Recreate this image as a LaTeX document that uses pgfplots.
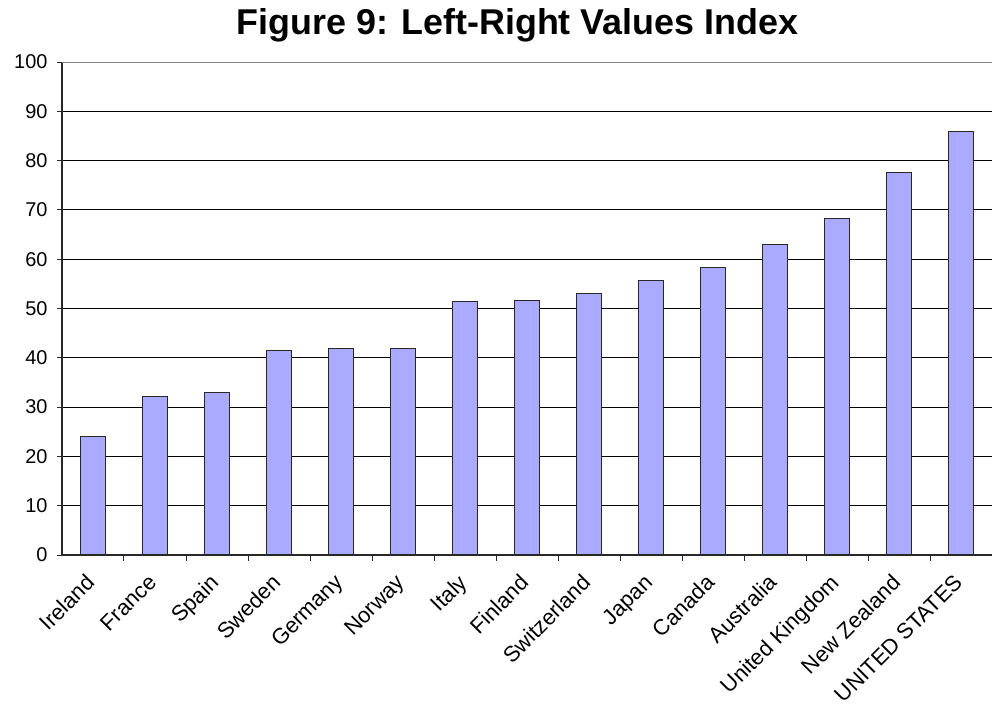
\documentclass[border=0pt]{standalone}
\usepackage{fontspec}
\setmainfont{Liberation Sans}
\usepackage{pgfplots}
\pgfplotsset{compat=1.18}
\definecolor{barblue}{RGB}{170,170,255}
\definecolor{edge}{RGB}{40,40,40}

\begin{document}
\begin{tikzpicture}
\begin{axis}[
  scale only axis,
  width=930bp, height=493bp,
  xmin=-0.5, xmax=14.5,
  ymin=0, ymax=100,
  ytick={0,10,...,100},
  ymajorgrids,
  grid style={black, line width=1bp},
  axis x line*=bottom, axis y line*=left,
  axis line style={edge, line width=1.3bp, -},
  xtick={0,...,14},
  xticklabels={Ireland,France,Spain,Sweden,Germany,Norway,Italy,Finland,Switzerland,Japan,Canada,Australia,United Kingdom,New Zealand,UNITED STATES},
  x tick label style={xshift=-8bp, yshift=-10bp, rotate=45, anchor=north east, inner sep=2bp, font=\fontsize{22}{24}\selectfont},
  y tick label style={font=\fontsize{20}{24}\selectfont, xshift=-6bp},
  minor x tick num=1,
  tick align=outside,
  major tick length=5bp,
  minor tick length=6bp,
  x tick style={edge, line width=1bp},
  major x tick style={draw=none},
  y tick style={edge, line width=1bp},
  /pgf/number format/assume math mode=true,
  title={Figure 9: Left-Right Values Index},
  title style={font=\bfseries\fontsize{36}{40}\selectfont, at={(0.5,1)}, anchor=base, yshift=22bp, xshift=-9.5bp},
]
\addplot[ybar, bar width=25bp, fill=barblue, draw=edge, line width=1.1bp] coordinates {
  (0,24.0) (1,32.1) (2,33.0) (3,41.5) (4,41.9) (5,41.9) (6,51.4) (7,51.7)
  (8,53.0) (9,55.7) (10,58.4) (11,63.0) (12,68.3) (13,77.5) (14,85.9)};
\draw[gray, line width=1.3bp] (rel axis cs:0,1) -- (rel axis cs:1,1);
\end{axis}
\useasboundingbox ([xshift=-62bp,yshift=-148bp]current axis.south west) rectangle ([xshift=2bp,yshift=62bp]current axis.north east);
\end{tikzpicture}
\end{document}
